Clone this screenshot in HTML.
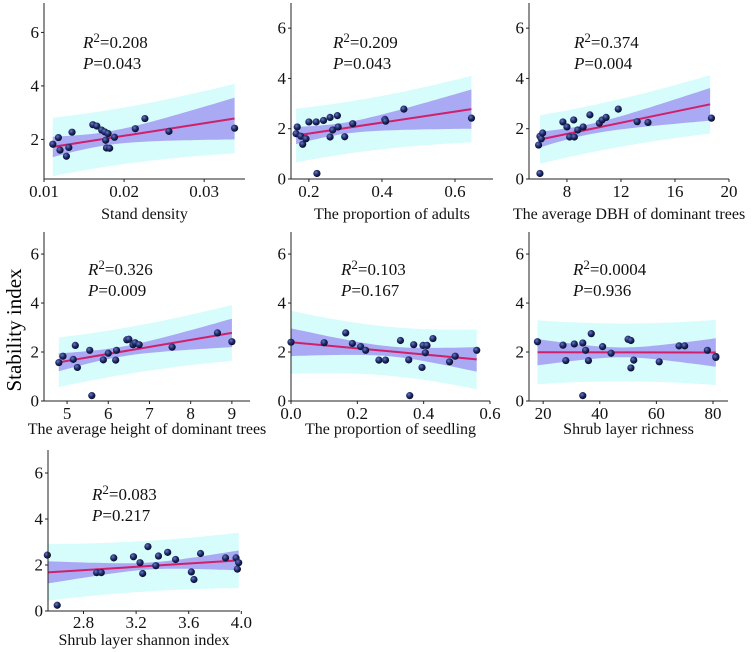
<!DOCTYPE html>
<html><head><meta charset="utf-8"><style>
html,body{margin:0;padding:0;background:#fff;}
svg{display:block;}
svg text{font-family:"Liberation Serif","DejaVu Serif","Times New Roman",serif;}
</style></head><body>
<svg id="chart" width="754" height="652" viewBox="0 0 754 652" xmlns="http://www.w3.org/2000/svg" font-family="Liberation Serif, DejaVu Serif, serif">
<defs>
<radialGradient id="dotg" cx="0.38" cy="0.35" r="0.7">
<stop offset="0" stop-color="#6a78c0"/><stop offset="0.5" stop-color="#1e2a6a"/><stop offset="1" stop-color="#050818"/>
</radialGradient>
</defs>
<text font-family="Liberation Serif, serif" x="0" y="0" transform="translate(21,330) rotate(-90)" text-anchor="middle" font-size="21">Stability index</text>
</svg>
<script>
// ---- data per panel ----
const titles = ["Stand density","The proportion of adults","The average DBH of dominant trees","The average height of dominant trees","The proportion of seedling","Shrub layer richness","Shrub layer shannon index"];
const r2Labels = ["0.208","0.209","0.374","0.326","0.103","0.0004","0.083"];
const pLabels = ["0.043","0.043","0.004","0.009","0.167","0.936","0.217"];
const xTicks = [[0.01,0.02,0.03],[0.2,0.4,0.6],[8,12,16,20],[5,6,7,8,9],[0.0,0.2,0.4,0.6],[20,40,60,80],[2.8,3.2,3.6,4.0]];
const xTickLabels = [["0.01","0.02","0.03"],["0.2","0.4","0.6"],["8","12","16","20"],["5","6","7","8","9"],["0.0","0.2","0.4","0.6"],["20","40","60","80"],["2.8","3.2","3.6","4.0"]];
const yTicks = [[2,4,6],[0,2,4,6],[0,2,4,6],[0,2,4,6],[0,2,4,6],[0,2,4,6],[0,2,4,6]];
const xDomains = [[0.01,0.0351],[0.151,0.704],[5.19,20],[4.44,9.44],[0,0.6],[15,85.3],[2.53,3.99]];
const yDomains = [[0.52,7.1],[0,7.0],[0,7.0],[0,6.9],[0,6.9],[0,6.9],[0,7.0]];
const xs1=[0.0111,0.0118,0.012,0.0128,0.0131,0.0135,0.0161,0.0166,0.0172,0.0176,0.0177,0.0178,0.018,0.0182,0.0188,0.0214,0.0226,0.0256,0.0338];
const ys1=[1.82,2.07,1.6,1.37,1.7,2.27,2.55,2.5,2.35,2.28,1.97,1.68,2.22,1.67,2.08,2.4,2.78,2.3,2.42];
const xs2=[0.165,0.168,0.178,0.183,0.192,0.2,0.22,0.222,0.24,0.258,0.258,0.265,0.278,0.28,0.298,0.32,0.408,0.41,0.46,0.645];
const ys2=[1.8,2.07,1.7,1.38,1.6,2.27,2.27,0.22,2.33,2.45,1.67,1.95,2.52,2.07,1.68,2.2,2.37,2.3,2.78,2.42];
const xs3=[5.9,6.0,6.0,6.1,6.2,7.7,8.0,8.2,8.5,8.55,8.8,9.2,9.7,10.4,10.6,10.9,11.8,13.2,14.0,18.7];
const ys3=[1.35,0.22,1.7,1.6,1.83,2.27,2.07,1.67,2.35,1.67,1.95,2.07,2.55,2.22,2.35,2.45,2.78,2.28,2.25,2.42];
const xs4=[4.8,4.9,5.15,5.2,5.25,5.55,5.6,5.88,6.0,6.18,6.2,6.45,6.5,6.6,6.65,6.75,7.55,8.65,9.0];
const ys4=[1.57,1.83,1.7,2.27,1.37,2.07,0.22,1.68,1.95,1.67,2.07,2.5,2.52,2.3,2.38,2.3,2.2,2.78,2.42];
const xs5=[0.0,0.1,0.165,0.185,0.21,0.225,0.265,0.285,0.33,0.355,0.358,0.37,0.395,0.398,0.41,0.405,0.428,0.478,0.495,0.56];
const ys5=[2.4,2.38,2.78,2.35,2.22,2.07,1.67,1.67,2.47,1.68,0.22,2.3,1.37,2.27,2.27,1.97,2.55,1.6,1.83,2.07];
const xs6=[18,27,28,31,34,34,35,36,37,41,44,50,51,51,52,61,68,70,78,81,81];
const ys6=[2.42,2.28,1.65,2.33,2.37,0.22,2.07,1.65,2.75,2.22,1.95,2.52,2.47,1.35,1.67,1.6,2.25,2.25,2.07,1.82,1.78];
const xs7=[2.525,2.6,2.9,2.935,3.03,3.18,3.23,3.25,3.29,3.35,3.37,3.44,3.5,3.62,3.64,3.69,3.88,3.96,3.97,3.98];
const ys7=[2.43,0.25,1.67,1.67,2.31,2.36,2.1,1.63,2.8,1.97,2.39,2.55,2.24,1.7,1.37,2.5,2.31,2.31,1.82,2.1];
const pointsX=[xs1,xs2,xs3,xs4,xs5,xs6,xs7];
const pointsY=[ys1,ys2,ys3,ys4,ys5,ys6,ys7];
// fit line: [x0,y0,x1,y1]
const fitLines=[[0.0111,1.72,0.0338,2.78],[0.165,1.73,0.645,2.78],[6.0,1.57,18.6,2.97],[4.8,1.58,9.0,2.78],[0.0,2.4,0.56,1.7],[18,1.99,81,1.98],[2.53,1.68,3.98,2.2]];
// band: [xMean, innerHalfAtMean, innerHalfAtRight, outerHalfAtMean, outerHalfAtRight]
const bands=[[0.0175,0.25,0.78,1.05,1.3],[0.29,0.22,0.78,1.03,1.32],[9.5,0.2,0.65,0.93,1.16],[6.3,0.2,0.58,0.95,1.14],[0.3,0.2,0.5,1.0,1.22],[48,0.2,0.58,1.18,1.33],[3.3,0.15,0.43,1.1,1.2]];
// ---- layout ----
const boxes=[[44,245,3,179],[291,493,3,179],[529,729,3,179],[44,250,232,401],[291,490,232,401],[529,728,232,401],[48,240,450,611]];
const titleY=[219,219,219,434,434,434,645];
const tickLabY=[197,197,197,419,419,419,628];
const statPos=[[83,48],[333,48],[574,48],[88,275],[341,275],[573,275],[92,500]];
const NS="http://www.w3.org/2000/svg";
const FONT="Liberation Serif, DejaVu Serif, serif";
const svg=document.getElementById('chart');
function mk(tag,attrs,parent){const e=document.createElementNS(NS,tag);for(const k in attrs)e.setAttribute(k,attrs[k]);(parent||svg).appendChild(e);return e;}
for(let i=0;i<7;i++){
  const [L,R,T,B]=boxes[i];
  const [x0,x1]=xDomains[i],[y0,y1]=yDomains[i];
  const sx=v=>L+(v-x0)/(x1-x0)*(R-L);
  const sy=v=>B-(v-y0)/(y1-y0)*(B-T);
  const g=mk('g',{});
  
  
  const f=fitLines[i];
  const slope=(f[3]-f[1])/(f[2]-f[0]);
  const line=x=>f[1]+slope*(x-f[0]);
  const bd=bands[i];
  const dR=Math.max(Math.abs(f[2]-bd[0]),1e-9);
  const kIn=Math.sqrt(Math.max(bd[2]*bd[2]-bd[1]*bd[1],0))/dR;
  const kOut=Math.sqrt(Math.max(bd[4]*bd[4]-bd[3]*bd[3],0))/dR;
  function bandPath(h0,k){
    let up=[],lo=[];
    for(let j=0;j<=40;j++){const x=f[0]+(f[2]-f[0])*j/40;const h=Math.sqrt(h0*h0+k*k*(x-bd[0])*(x-bd[0]));up.push([sx(x),sy(line(x)+h)]);lo.push([sx(x),sy(line(x)-h)]);}
    return 'M'+up.map(p=>p[0].toFixed(1)+','+p[1].toFixed(1)).join('L')+'L'+lo.reverse().map(p=>p[0].toFixed(1)+','+p[1].toFixed(1)).join('L')+'Z';
  }
  const ob=mk('path',{d:bandPath(bd[3],kOut),fill:'#d6fcfc'},g);
  
  
  const ib=mk('path',{d:bandPath(bd[1],kIn),fill:'#a9a9f4'},g);
  
  
  const fl=mk('line',{x1:sx(f[0]),y1:sy(f[1]),x2:sx(f[2]),y2:sy(f[3]),stroke:'#d0206a','stroke-width':2},g);
  
  
  const px=pointsX[i],py=pointsY[i];
  for(let j=0;j<px.length;j++){
    const c=mk('circle',{cx:sx(px[j]),cy:sy(py[j]),r:3.6,fill:'url(#dotg)'},g);
    
    
  }
  const ya=mk('line',{x1:L,y1:T,x2:L,y2:B,stroke:'#222','stroke-width':1},g);
  
  
  const xa=mk('line',{x1:L,y1:B,x2:R,y2:B,stroke:'#222','stroke-width':1},g);
  
  
  yTicks[i].forEach(v=>{
    const y=sy(v);
    mk('line',{x1:L-3,y1:y,x2:L,y2:y,stroke:'#222'},g);
    const t=mk('text',{x:L-5,y:y+5.5,'text-anchor':'end','font-size':17,fill:'#111','font-family':FONT},g);
    t.textContent=String(v);
    
    
  });
  xTicks[i].forEach((v,j)=>{
    const x=sx(v);
    mk('line',{x1:x,y1:B,x2:x,y2:B+3,stroke:'#222'},g);
    const t=mk('text',{x:x,y:tickLabY[i],'text-anchor':'middle','font-size':17,fill:'#111','font-family':FONT},g);
    t.textContent=xTickLabels[i][j];
    
    
  });
  const tt=mk('text',{x:(L+R)/2,y:titleY[i],'text-anchor':'middle','font-size':16,fill:'#111','font-family':FONT},g);
  tt.textContent=titles[i];
  
  
  const [qx,qy]=statPos[i];
  const r=mk('text',{x:qx,y:qy,'font-size':17,fill:'#111','font-family':FONT},g);
  
  
  const a=mk('tspan',{'font-style':'italic'},r);a.textContent='R';
  const b=mk('tspan',{dy:-6,'font-size':13},r);b.textContent='2';
  const c2=mk('tspan',{dy:6},r);c2.textContent='='+r2Labels[i];
  const p=mk('text',{x:qx,y:qy+21,'font-size':17,fill:'#111','font-family':FONT},g);
  
  
  const pa=mk('tspan',{'font-style':'italic'},p);pa.textContent='P';
  const pb=mk('tspan',{},p);pb.textContent='='+pLabels[i];
}
</script>
</body></html>
